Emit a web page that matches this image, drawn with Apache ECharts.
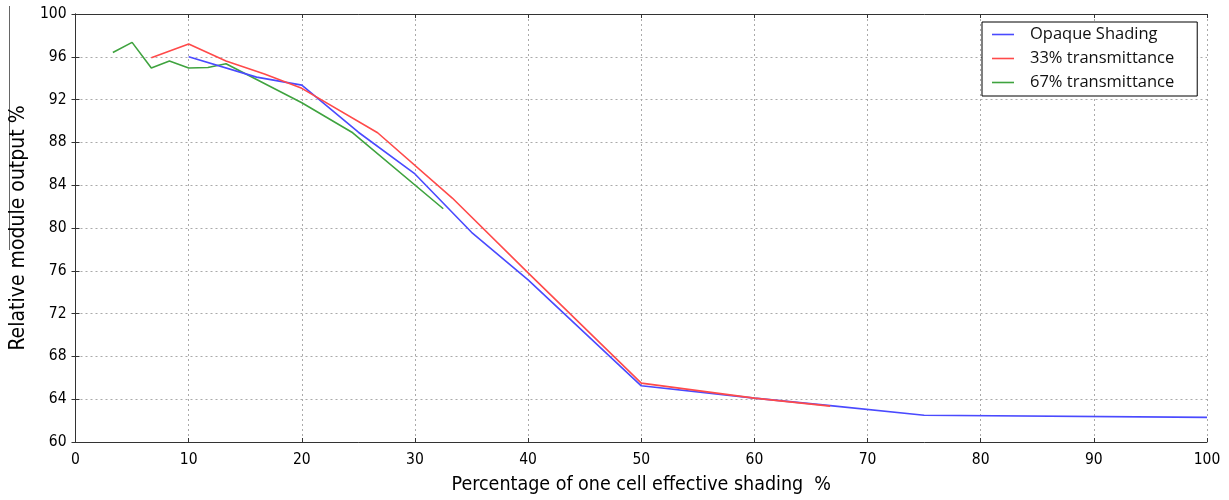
<!DOCTYPE html>
<html>
<head>
<meta charset="utf-8">
<script src="https://cdn.jsdelivr.net/npm/echarts@6/dist/echarts.min.js"></script>
<style>
html,body{margin:0;padding:0;background:#fff;}
#chart{width:1229px;height:500px;}
</style>
</head>
<body>
<div id="chart"></div>
<script>
// ---- data ----
const seriesNames = ['Opaque Shading', '33% transmittance', '67% transmittance'];

const xOpaque = [10, 16, 20, 25, 30, 35, 40, 50, 60, 66.7, 75, 100];
const yOpaque = [96.0, 94.1, 93.35, 88.95, 85.05, 79.6, 75.15, 65.25, 64.1, 63.4, 62.5, 62.3];

const x33 = [6.7, 10, 13.3, 16.7, 20, 26.7, 33.3, 40, 50, 60, 66.7];
const y33 = [95.9, 97.2, 95.6, 94.4, 93.05, 88.9, 82.8, 75.8, 65.5, 64.1, 63.35];

const x67 = [3.3, 5, 6.7, 8.3, 10, 11.7, 13.3, 20, 24.5, 32.5];
const y67 = [96.4, 97.35, 94.95, 95.6, 94.95, 95.0, 95.35, 91.7, 88.9, 81.8];

const xTicks = [0, 10, 20, 30, 40, 50, 60, 70, 80, 90, 100];
const yTicks = [60, 64, 68, 72, 76, 80, 84, 88, 92, 96, 100];

const xName = 'Percentage of one cell effective shading  %';
const yName = 'Relative module output %';

// ---- build chart ----
const pairs = (xs, ys) => xs.map((x, i) => [x, ys[i]]);
const colors = ['#4a4aff', '#ff4a4a', '#3fa33f'];
const tickFont = '"DejaVu Sans Condensed", "DejaVu Sans", sans-serif';

const chart = echarts.init(document.getElementById('chart'), null, {renderer: 'canvas'});

const spine = {show: true, lineStyle: {color: '#333', width: 1}};
const option = {
  backgroundColor: '#fff',
  animation: false,
  color: colors,
  grid: {left: 74, right: 22, top: 14, bottom: 55, containLabel: false},
  legend: {
    orient: 'vertical',
    left: 982, top: 22,
    data: seriesNames,
    icon: 'rect',
    itemWidth: 22, itemHeight: 1.6,
    itemGap: 7,
    padding: [4, 23, 5, 10],
    backgroundColor: '#fff',
    borderColor: '#000', borderWidth: 1, borderRadius: 0,
    textStyle: {fontFamily: '"Open Sans", "Liberation Sans", sans-serif', fontSize: 16.5, color: '#111', lineHeight: 16, padding: [0, 0, 0, 11]}
  },
  xAxis: [{
    type: 'value', min: xTicks[0], max: xTicks[xTicks.length - 1], interval: xTicks[1] - xTicks[0],
    position: 'bottom',
    axisLine: spine,
    axisTick: {show: true, inside: true, length: 4, lineStyle: {color: '#333'}},
    axisLabel: {fontFamily: tickFont, fontSize: 15.5, color: '#000', margin: 10},
    splitLine: {show: true, lineStyle: {type: [2, 3], color: '#aaa', width: 1}},
    name: xName, nameLocation: 'middle', nameGap: 33,
    nameTextStyle: {fontFamily: tickFont, fontSize: 19.5, color: '#000'}
  }, {
    type: 'value', min: xTicks[0], max: xTicks[xTicks.length - 1], interval: xTicks[1] - xTicks[0],
    position: 'top',
    axisLine: spine,
    axisTick: {show: true, inside: true, length: 4, lineStyle: {color: '#333'}},
    axisLabel: {show: false},
    splitLine: {show: false}
  }],
  yAxis: [{
    type: 'value', min: yTicks[0], max: yTicks[yTicks.length - 1], interval: yTicks[1] - yTicks[0],
    position: 'left',
    axisLine: spine,
    axisTick: {show: true, inside: true, length: 4, lineStyle: {color: '#333'}},
    axisLabel: {fontFamily: tickFont, fontSize: 15.5, color: '#000', margin: 9},
    splitLine: {show: true, lineStyle: {type: [2, 3], color: '#aaa', width: 1}},
    name: yName, nameLocation: 'middle', nameGap: 41, nameRotate: 90,
    nameTextStyle: {fontFamily: tickFont, fontSize: 21, color: '#000'}
  }, {
    type: 'value', min: yTicks[0], max: yTicks[yTicks.length - 1], interval: yTicks[1] - yTicks[0],
    position: 'right',
    axisLine: spine,
    axisTick: {show: true, inside: true, length: 4, lineStyle: {color: '#333'}},
    axisLabel: {show: false},
    splitLine: {show: false}
  }],
  series: [
    {name: seriesNames[0], type: 'line', data: pairs(xOpaque, yOpaque), showSymbol: false, symbol: 'none', lineStyle: {width: 1.6}, z: 3},
    {name: seriesNames[1], type: 'line', data: pairs(x33, y33), showSymbol: false, symbol: 'none', lineStyle: {width: 1.6}, z: 4},
    {name: seriesNames[2], type: 'line', data: pairs(x67, y67), showSymbol: false, symbol: 'none', lineStyle: {width: 1.6}, z: 2}
  ],
  graphic: [{
    type: 'line', shape: {x1: 9.5, y1: 6, x2: 9.5, y2: 250},
    style: {stroke: '#666', lineWidth: 1}, silent: true
  }]
};
chart.setOption(option);
</script>
</body>
</html>
